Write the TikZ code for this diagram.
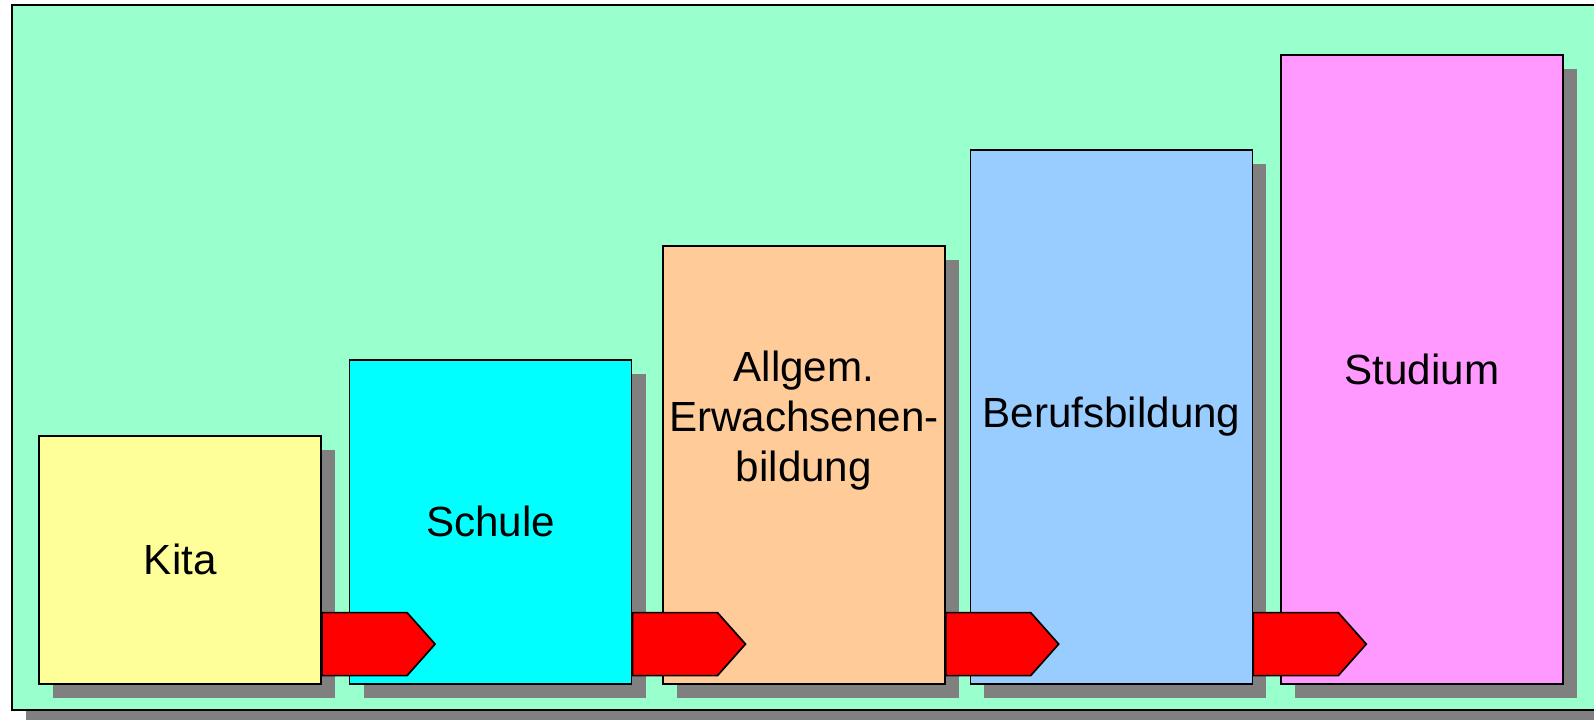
\documentclass[tikz,border=0pt]{standalone}
\usepackage{fontspec}
\setmainfont{Liberation Sans}
\usetikzlibrary{calc}
\usetikzlibrary{shadows}

\definecolor{mint}{HTML}{99FFCC}
\definecolor{kitacol}{HTML}{FFFF99}
\definecolor{schulecol}{HTML}{00FFFF}
\definecolor{allgemcol}{HTML}{FFCC99}
\definecolor{berufcol}{HTML}{99CCFF}
\definecolor{studiumcol}{HTML}{FF99FF}
\definecolor{shadowgray}{HTML}{808080}

\begin{document}
\begin{tikzpicture}[
  dropgray/.style={drop shadow={shadow xshift=0.35cm,shadow yshift=-0.35cm,fill=shadowgray,opacity=1}},
  stage/.style={rectangle,draw=black,line width=1.2pt,minimum width=7.05cm,anchor=south west,
    dropgray,font=\fontsize{30}{36}\selectfont,align=center},
  pointer/.style={fill=red,draw=black,line width=1.2pt,line join=miter}
]

\coordinate (ORIGIN) at (0,0);
\useasboundingbox (ORIGIN) rectangle ++(39.85,17.975);
\clip (ORIGIN) rectangle ++(39.85,17.975);

%background frame, runs off the right edge
\node[rectangle,draw=black,line width=1.2pt,fill=mint,dropgray,anchor=south west,
  minimum width=41cm,minimum height=17.625cm] at ($(ORIGIN)+(0.275,0.2)$) (FRAME) {};

%%%%%%%

%the five stages, growing to the right
\node[stage,fill=kitacol,minimum height=6.2cm] at ($(ORIGIN)+(0.96,0.86)$) (KITA) {Kita};
\node[stage,fill=schulecol,minimum height=8.1cm] at ($(ORIGIN)+(8.72,0.86)$) (SCHULE) {Schule};
\node[stage,fill=allgemcol,minimum height=10.95cm] at ($(ORIGIN)+(16.55,0.86)$) (ALLGEM) {};
\node[font=\fontsize{30}{35.6}\selectfont,align=center] at ($(ALLGEM)+(0,1.1)$) (ALLGEMTXT) {Allgem.\\Erwachsenen-\\bildung};
\node[stage,fill=berufcol,minimum height=13.35cm] at ($(ORIGIN)+(24.24,0.86)$) (BERUF) {Berufsbildung};
\node[stage,fill=studiumcol,minimum height=15.725cm] at ($(ORIGIN)+(32.0,0.86)$) (STUDIUM) {Studium};

%red arrows between the stages
\foreach \stg in {KITA,SCHULE,ALLGEM,BERUF}
  \draw[pointer] ($(\stg.south east)+(0,0.225)$) -- ++(2.125,0) -- ++(0.7,0.7875)
    -- ++(-0.7,0.7875) -- ++(-2.125,0) -- cycle;

\end{tikzpicture}
\end{document}
